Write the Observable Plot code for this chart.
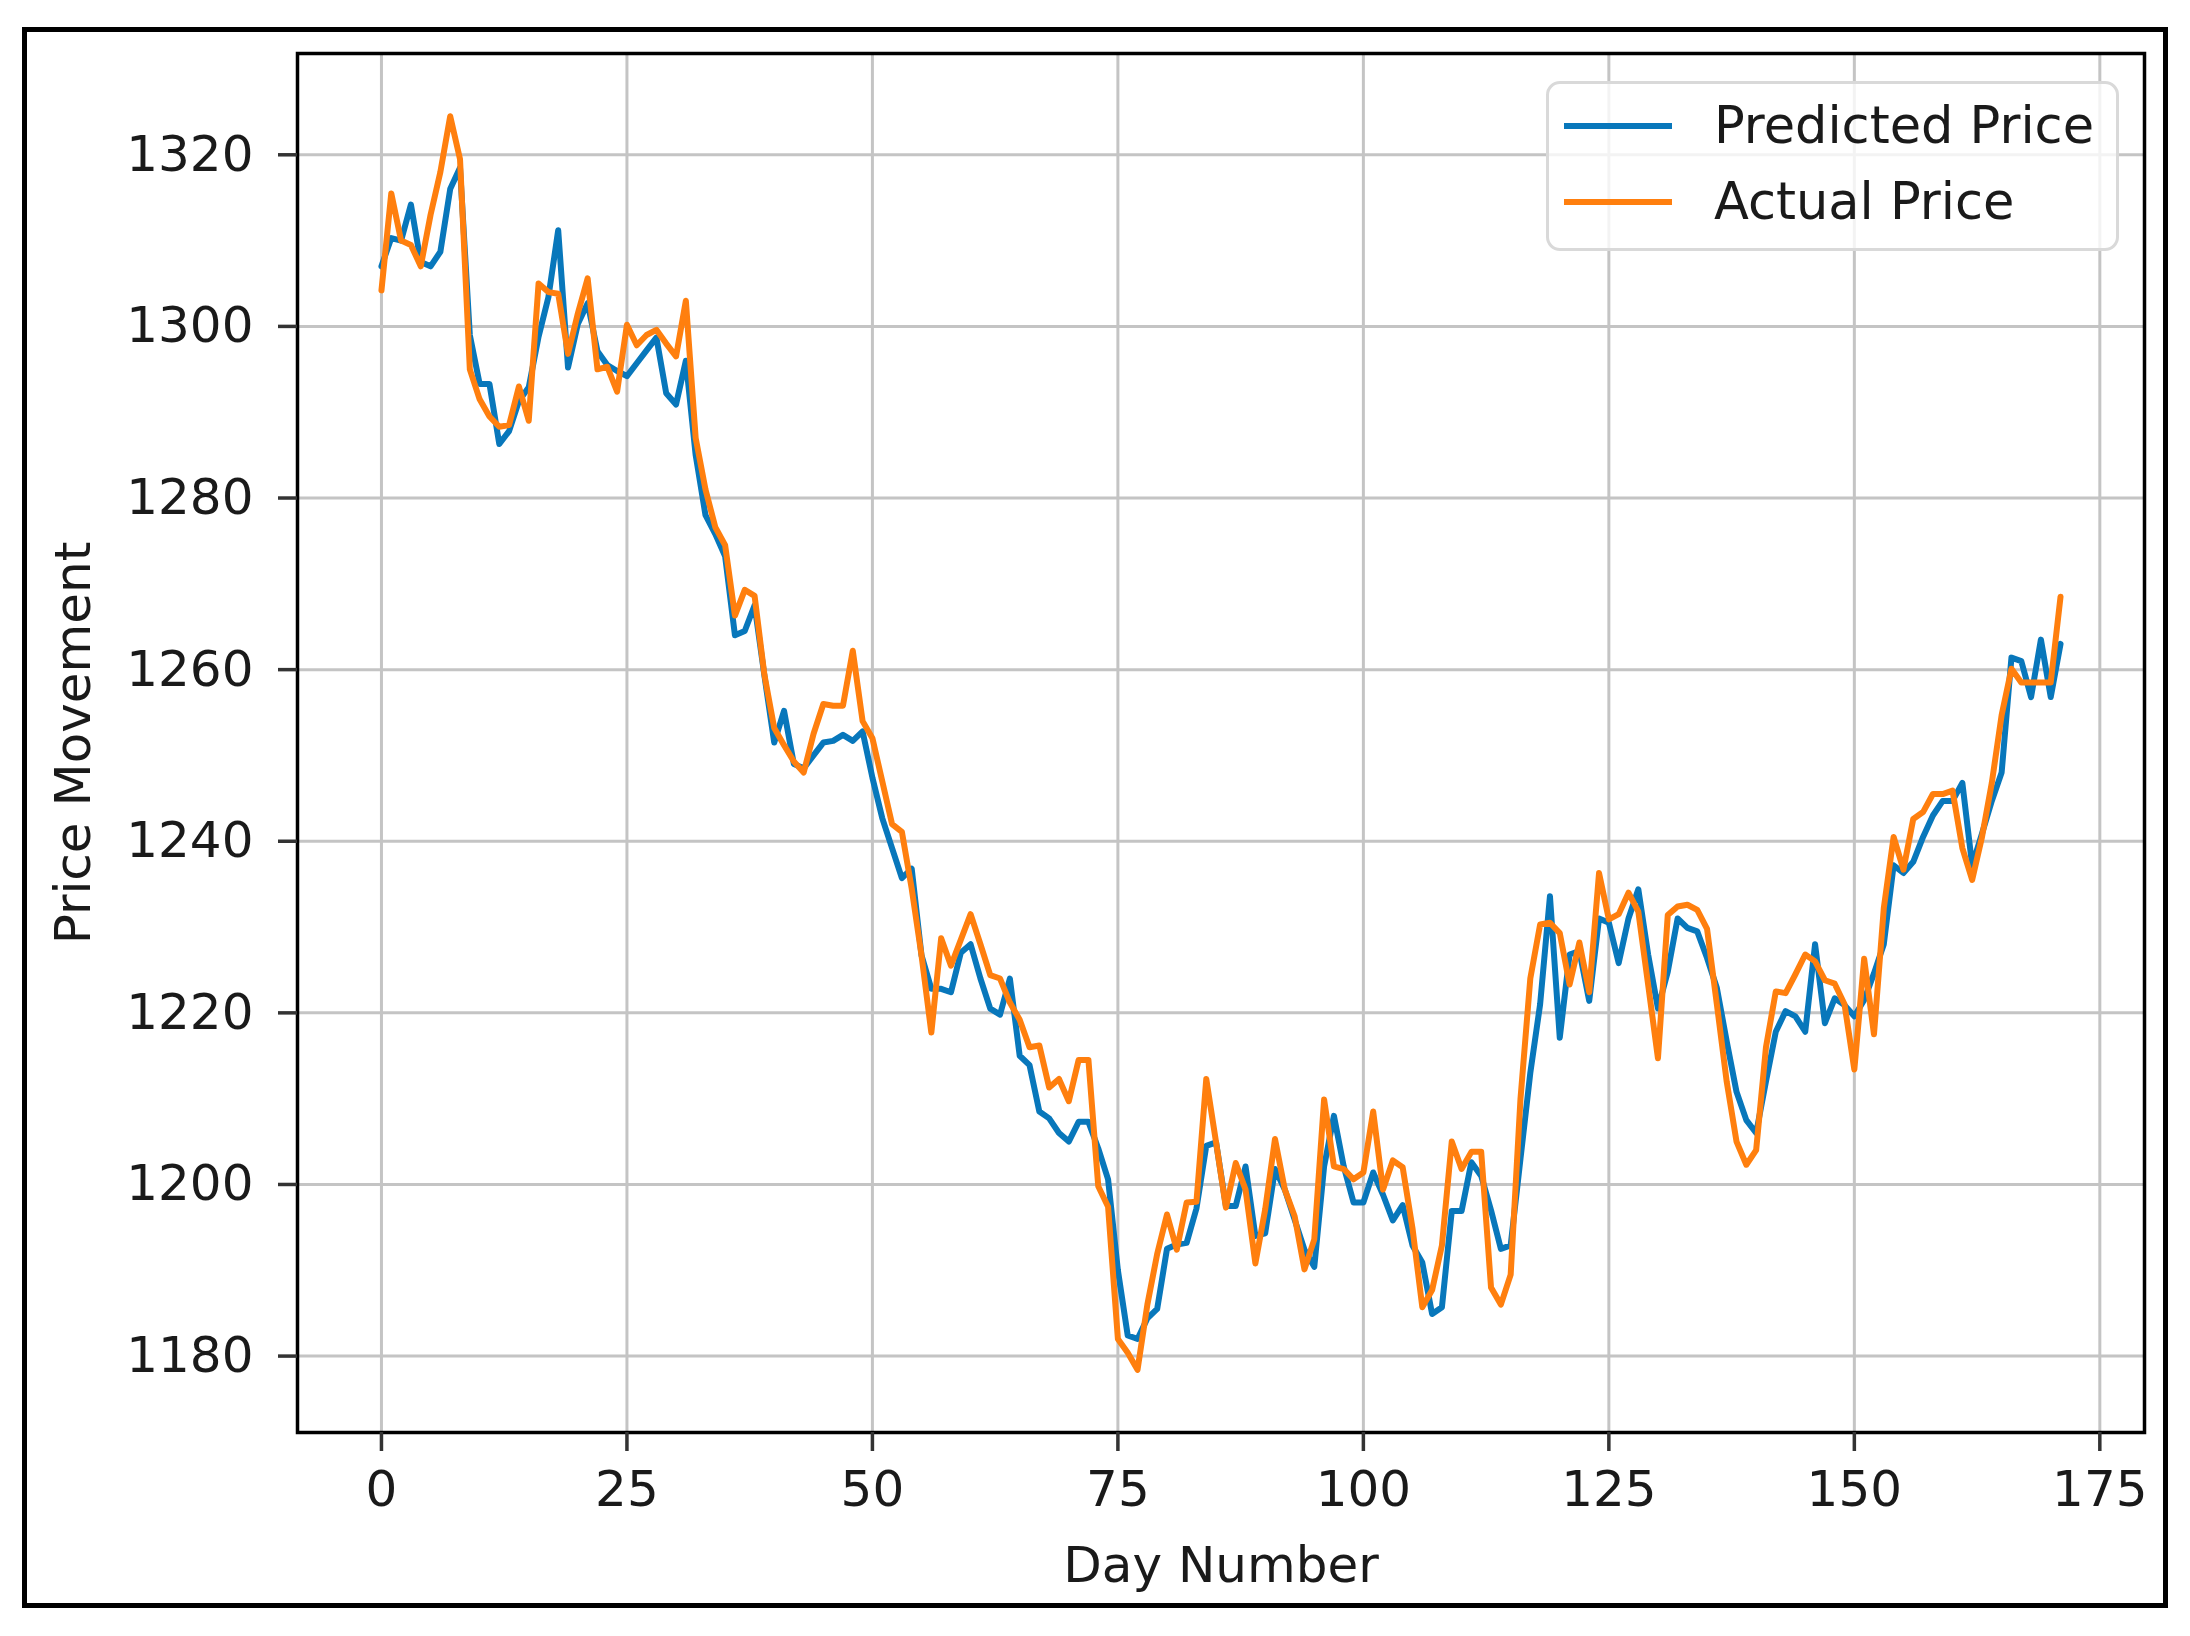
<!DOCTYPE html>
<html>
<head>
<meta charset="utf-8">
<script src="https://cdn.jsdelivr.net/npm/d3@7"></script>
<script src="https://cdn.jsdelivr.net/npm/@observablehq/plot@0.6"></script>
<style>
  html, body { margin: 0; padding: 0; background: #fff; }
  #wrap { position: relative; width: 2190px; height: 1636px; overflow: hidden; background: #fff; }
  #chart { position: absolute; left: 0; top: 0; }
  #border { position: absolute; left: 22px; top: 27px; width: 2146px; height: 1581px; border: 5px solid #000; box-sizing: border-box; pointer-events: none; }
  #legend { position: absolute; left: 1546px; top: 81px; width: 573px; height: 170px; box-sizing: border-box;
            border: 3px solid #d9d9d9; border-radius: 14px; background: rgba(255,255,255,0.8);
            font-family: "DejaVu Sans", sans-serif; font-size: 51px; color: #1a1a1a; }
  .sw { position: absolute; left: 15px; width: 108px; height: 6px; }
  .lab { position: absolute; left: 165px; height: 60px; line-height: 60px; white-space: nowrap; }
</style>
</head>
<body>
<div id="wrap">
  <div id="chart"></div>
  <div id="border"></div>
  <div id="legend"></div>
</div>
<script>
// ---- data ----
const seriesNames = ["Predicted Price", "Actual Price"];
const seriesColors = ["#0877bb", "#ff7f0e"];

const predicted = [
  1307, 1310.3, 1310, 1314.2, 1307.5, 1307, 1308.7, 1316, 1318.5, 1299,
  1293.3, 1293.3, 1286.3, 1287.8, 1291.3, 1292.9, 1298.8, 1303.4, 1311.2, 1295.2,
  1300.3, 1302.7, 1297.1, 1295.5, 1294.8, 1294.2, 1295.7, 1297.2, 1298.7, 1292.2,
  1290.9, 1296, 1285, 1278, 1275.8, 1273.2, 1264, 1264.5, 1267.5, 1259.3,
  1251.5, 1255.2, 1249, 1248.5, 1250, 1251.5, 1251.7, 1252.4, 1251.7, 1252.8,
  1247.4, 1242.7, 1239.2, 1235.7, 1236.8, 1226.7, 1222.8, 1222.8, 1222.4, 1227,
  1228, 1224, 1220.5, 1219.8, 1224, 1215, 1213.9, 1208.5, 1207.7, 1206,
  1205, 1207.3, 1207.3, 1204.2, 1200.6, 1190, 1182.4, 1182, 1184.4, 1185.5,
  1192.5, 1193, 1193.2, 1197.2, 1204.5, 1204.9, 1197.5, 1197.5, 1202.1, 1194,
  1194.3, 1201.8, 1199.4, 1195.9, 1192.4, 1190.4, 1202.1, 1208, 1202.1, 1197.9,
  1197.9, 1201.4, 1198.8, 1195.8, 1197.6, 1192.9, 1190.9, 1184.9, 1185.7, 1196.9,
  1196.9, 1202.6, 1201, 1197, 1192.5, 1192.9, 1203, 1213, 1221, 1233.6,
  1217.1, 1226.8, 1227.2, 1221.4, 1231, 1230.5, 1225.8, 1231, 1234.4, 1226.8,
  1220.5, 1224.8, 1231, 1229.9, 1229.5, 1226.4, 1222.9, 1216.7, 1210.8, 1207.5,
  1206, 1212, 1217.8, 1220.2, 1219.6, 1217.8, 1228, 1218.8, 1221.7, 1220.9,
  1219.6, 1221.5, 1224.6, 1228, 1237.2, 1236.3, 1237.6, 1240.5, 1243, 1244.7,
  1244.7, 1246.8, 1237.2, 1240.9, 1244.7, 1248, 1261.4, 1261, 1256.8, 1263.5,
  1256.8, 1263
];

const actual = [
  1304.2, 1315.5, 1310, 1309.5, 1307, 1313, 1318, 1324.5, 1319.5, 1295,
  1291.5, 1289.5, 1288.3, 1288.5, 1293, 1289, 1305, 1304, 1303.8, 1296.8,
  1301.5, 1305.6, 1295, 1295.3, 1292.4, 1300.2, 1297.8, 1299, 1299.6, 1298,
  1296.5, 1303, 1287, 1281, 1276.6, 1274.5, 1266.3, 1269.3, 1268.6, 1259.4,
  1253.2, 1251.2, 1249.3, 1248, 1252.5, 1256, 1255.8, 1255.8, 1262.2, 1254,
  1252, 1247, 1242, 1241.1, 1234.5, 1226.7, 1217.7, 1228.7, 1225.5, 1228.5,
  1231.5, 1228, 1224.4, 1224, 1221.2, 1219.2, 1216, 1216.2, 1211.3, 1212.3,
  1209.7, 1214.5, 1214.5, 1199.8, 1197.4, 1182, 1180.4, 1178.4, 1186, 1191.9,
  1196.5, 1192.4, 1197.9, 1198, 1212.3, 1204.9, 1197.3, 1202.5, 1199.4, 1190.8,
  1197.1, 1205.3, 1199.4, 1196.3, 1190.1, 1193.6, 1209.9, 1202.1, 1201.8, 1200.6,
  1201.4, 1208.5, 1199.4, 1202.8, 1202, 1194.9, 1185.7, 1187.7, 1192.9, 1205,
  1201.8, 1203.8, 1203.8, 1188, 1186, 1189.5, 1210, 1224, 1230.3, 1230.5,
  1229.3, 1223.3, 1228.2, 1222.4, 1236.3, 1230.9, 1231.5, 1234, 1231.8, 1223.3,
  1214.7, 1231.4, 1232.4, 1232.6, 1232, 1229.8, 1221, 1212, 1205, 1202.3,
  1204, 1216, 1222.5, 1222.3, 1224.5, 1226.8, 1226, 1223.8, 1223.4, 1221,
  1213.4, 1226.3, 1217.5, 1232.2, 1240.5, 1236.7, 1242.6, 1243.4, 1245.5, 1245.5,
  1245.9, 1239.2, 1235.5, 1240.5, 1246.8, 1254.7, 1260.1, 1258.5, 1258.5, 1258.5,
  1258.5, 1268.5
];

const xTicks = [0, 25, 50, 75, 100, 125, 150, 175];
const yTicks = [1180, 1200, 1220, 1240, 1260, 1280, 1300, 1320];
const xLabel = "Day Number";
const yLabel = "Price Movement";

// ---- build rows ----
const rows = predicted.map((p, i) => ({ day: i, predicted: p, actual: actual[i] }));

const n = rows.length - 1;
const allVals = predicted.concat(actual);
const vMin = d3.min(allVals), vMax = d3.max(allVals);
const padX = n * 0.05, padY = (vMax - vMin) * 0.05;

const TXT = "#1a1a1a";
const chart = Plot.plot({
  width: 2190,
  height: 1636,
  marginLeft: 297,
  marginRight: 46,
  marginTop: 53,
  marginBottom: 204,
  style: { fontFamily: "'DejaVu Sans', sans-serif", fontSize: "50px", color: TXT, background: "transparent", overflow: "visible" },
  x: { domain: [-padX, n + padX] },
  y: { domain: [vMin - padY, vMax + padY] },
  marks: [
    Plot.gridX(xTicks, { stroke: "#c4c4c4", strokeOpacity: 1, strokeWidth: 3 }),
    Plot.gridY(yTicks, { stroke: "#c4c4c4", strokeOpacity: 1, strokeWidth: 3 }),
    Plot.line(rows, { x: "day", y: "predicted", stroke: seriesColors[0], strokeWidth: 6, strokeLinejoin: "round" }),
    Plot.line(rows, { x: "day", y: "actual", stroke: seriesColors[1], strokeWidth: 6, strokeLinejoin: "round" }),
    Plot.frame({ stroke: "#000", strokeWidth: 3.5 }),
    Plot.axisX(xTicks, { tickSize: 19, tickPadding: 19, stroke: "#333", strokeWidth: 3.5, fill: TXT, fontSize: 50, label: null, tickFormat: d => `${d}` }),
    Plot.axisY(yTicks, { tickSize: 19, tickPadding: 25, stroke: "#333", strokeWidth: 3.5, fill: TXT, fontSize: 50, label: null, tickFormat: d => `${d}` }),
    Plot.text([xLabel], { text: d => d, frameAnchor: "bottom", textAnchor: "middle", lineAnchor: "middle", dy: 133, fontSize: 50, fill: TXT }),
    Plot.text([yLabel], { text: d => d, frameAnchor: "left", textAnchor: "middle", lineAnchor: "middle", dx: -224, rotate: -90, fontSize: 50, fill: TXT })
  ]
});
document.getElementById("chart").appendChild(chart);

// ---- legend ----
const legend = document.getElementById("legend");
const lineY = [42, 118];
seriesNames.forEach((name, i) => {
  const sw = document.createElement("div");
  sw.className = "sw";
  sw.style.top = (lineY[i] - 3) + "px";
  sw.style.background = seriesColors[i];
  legend.appendChild(sw);
  const lab = document.createElement("div");
  lab.className = "lab";
  lab.style.top = (lineY[i] - 30) + "px";
  lab.textContent = name;
  legend.appendChild(lab);
});
</script>
</body>
</html>
